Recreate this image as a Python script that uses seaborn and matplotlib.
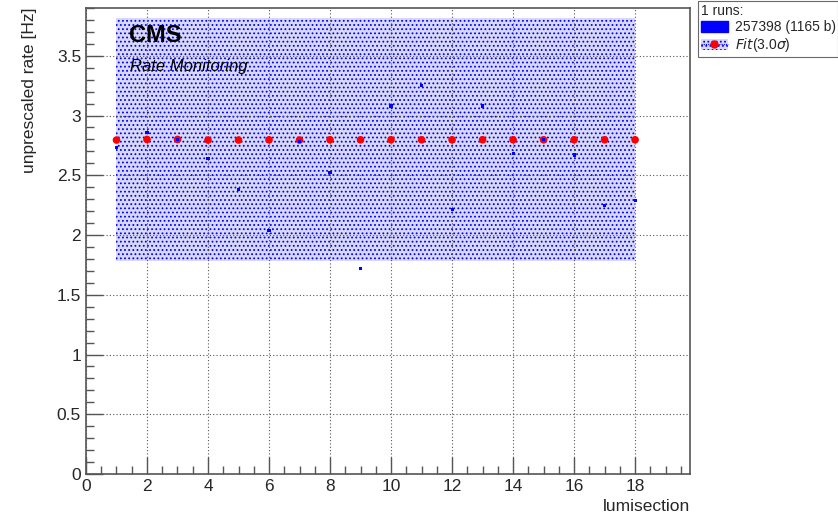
import numpy as np
import pandas as pd
import seaborn as sns
import matplotlib.pyplot as plt
from matplotlib.patches import Patch
from matplotlib.lines import Line2D
from matplotlib.ticker import MultipleLocator

# values
lumisection = [1, 2, 3, 4, 5, 6, 7, 8, 9, 10, 11, 12, 13, 14, 15, 16, 17, 18]
rate = [2.73, 2.86, 2.80, 2.64, 2.38, 2.04, 2.78, 2.525, 1.72, 3.08,
        3.25, 2.21, 3.08, 2.68, 2.80, 2.67, 2.25, 2.29]
fit_rate = [2.795, 2.80, 2.80, 2.795, 2.795, 2.797, 2.795, 2.797, 2.797, 2.797,
            2.797, 2.797, 2.797, 2.797, 2.797, 2.797, 2.797, 2.797]
band_low = [1.78, 1.78, 1.78, 1.78, 1.78, 1.78, 1.78, 1.78, 1.78,
            1.78, 1.78, 1.78, 1.78, 1.78, 1.78, 1.78, 1.78, 1.78]
band_high = [3.82, 3.82, 3.82, 3.82, 3.82, 3.82, 3.82, 3.82, 3.82,
             3.82, 3.82, 3.82, 3.82, 3.82, 3.82, 3.82, 3.82, 3.82]
run_label = "257398 (1165 b)"

df = pd.DataFrame({"lumisection": lumisection, "rate": rate, "fit": fit_rate})

sns.set_style("ticks")
plt.rcParams["font.family"] = ["Liberation Sans", "DejaVu Sans"]
plt.rcParams["hatch.linewidth"] = 0.8
plt.rcParams["hatch.color"] = "blue"

fig = plt.figure(figsize=(8.38, 5.16), dpi=100)
ax = fig.add_axes([0.1026, 0.0814, 0.7208, 0.9031])
ax.set_axisbelow(False)

# fit band (dotted fill like ROOT)
ax.fill_between(lumisection, band_low, band_high, facecolor="#d8d8fb",
                edgecolor="blue", hatch="....", linewidth=0, zorder=1)

sns.scatterplot(data=df, x="lumisection", y="fit", ax=ax, color="red",
                marker="o", s=30, edgecolor="none", zorder=3, legend=False)
sns.scatterplot(data=df, x="lumisection", y="rate", ax=ax, color="blue",
                marker="s", s=5, edgecolor="none", zorder=4, legend=False)

ax.set_xlim(0, 19.8)
ax.set_ylim(0, 3.9)
ax.xaxis.set_minor_locator(MultipleLocator(0.5))
ax.yaxis.set_minor_locator(MultipleLocator(0.1))
ax.set_yticks(np.arange(0, 3.6, 0.5))
ax.set_yticklabels(["0", "0.5", "1", "1.5", "2", "2.5", "3", "3.5"])
ax.set_xticks(np.arange(0, 19, 2))
ax.set_xticklabels([str(v) for v in range(0, 19, 2)])
ax.tick_params(which="major", direction="in", length=12, width=1,
               labelsize=12.5, top=False, right=False, color="#555555")
ax.tick_params(which="minor", direction="in", length=6, width=1,
               top=False, right=False, color="#555555")
ax.grid(which="major", linestyle=(0, (1, 2)), color="#555555", linewidth=0.8)
for sp in ax.spines.values():
    sp.set_color("#555555")
    sp.set_linewidth(1.2)

ax.set_xlabel("lumisection", fontsize=12.5, loc="right")
ax.set_ylabel("unprescaled rate [Hz]", fontsize=12.5, loc="top", labelpad=14)

ax.text(0.071, 0.965, "CMS", transform=ax.transAxes, fontsize=17,
        fontweight="bold", va="top", color="black", zorder=5)
ax.text(0.073, 0.89, "Rate Monitoring", transform=ax.transAxes,
        fontsize=12, style="italic", va="top", color="black", zorder=5)

# legend outside on the right
run_patch = Patch(facecolor="blue", edgecolor="blue")
fit_patch = Patch(facecolor="#d8d8fb", edgecolor="blue", hatch="....",
                  linewidth=0)
fit_line = Line2D([], [], color="blue", linestyle=(0, (1, 1)), linewidth=0.8,
                  marker="o", markersize=5, markerfacecolor="red",
                  markeredgecolor="red")
leg = fig.legend([run_patch, (fit_patch, fit_line)],
                 [run_label, r"$\it{Fit}$(3.0$\sigma$)"],
                 title="1 runs:", loc="upper left",
                 bbox_to_anchor=(0.831, 1.0), fontsize=10,
                 title_fontsize=10, frameon=True, fancybox=False,
                 edgecolor="#444444", borderpad=0.2, labelspacing=0.15,
                 handlelength=2.0, handleheight=0.9, handletextpad=0.45,
                 borderaxespad=0.1)
leg._legend_box.align = "left"
leg.get_frame().set_linewidth(0.8)

fig.savefig("out.png", dpi=100)
